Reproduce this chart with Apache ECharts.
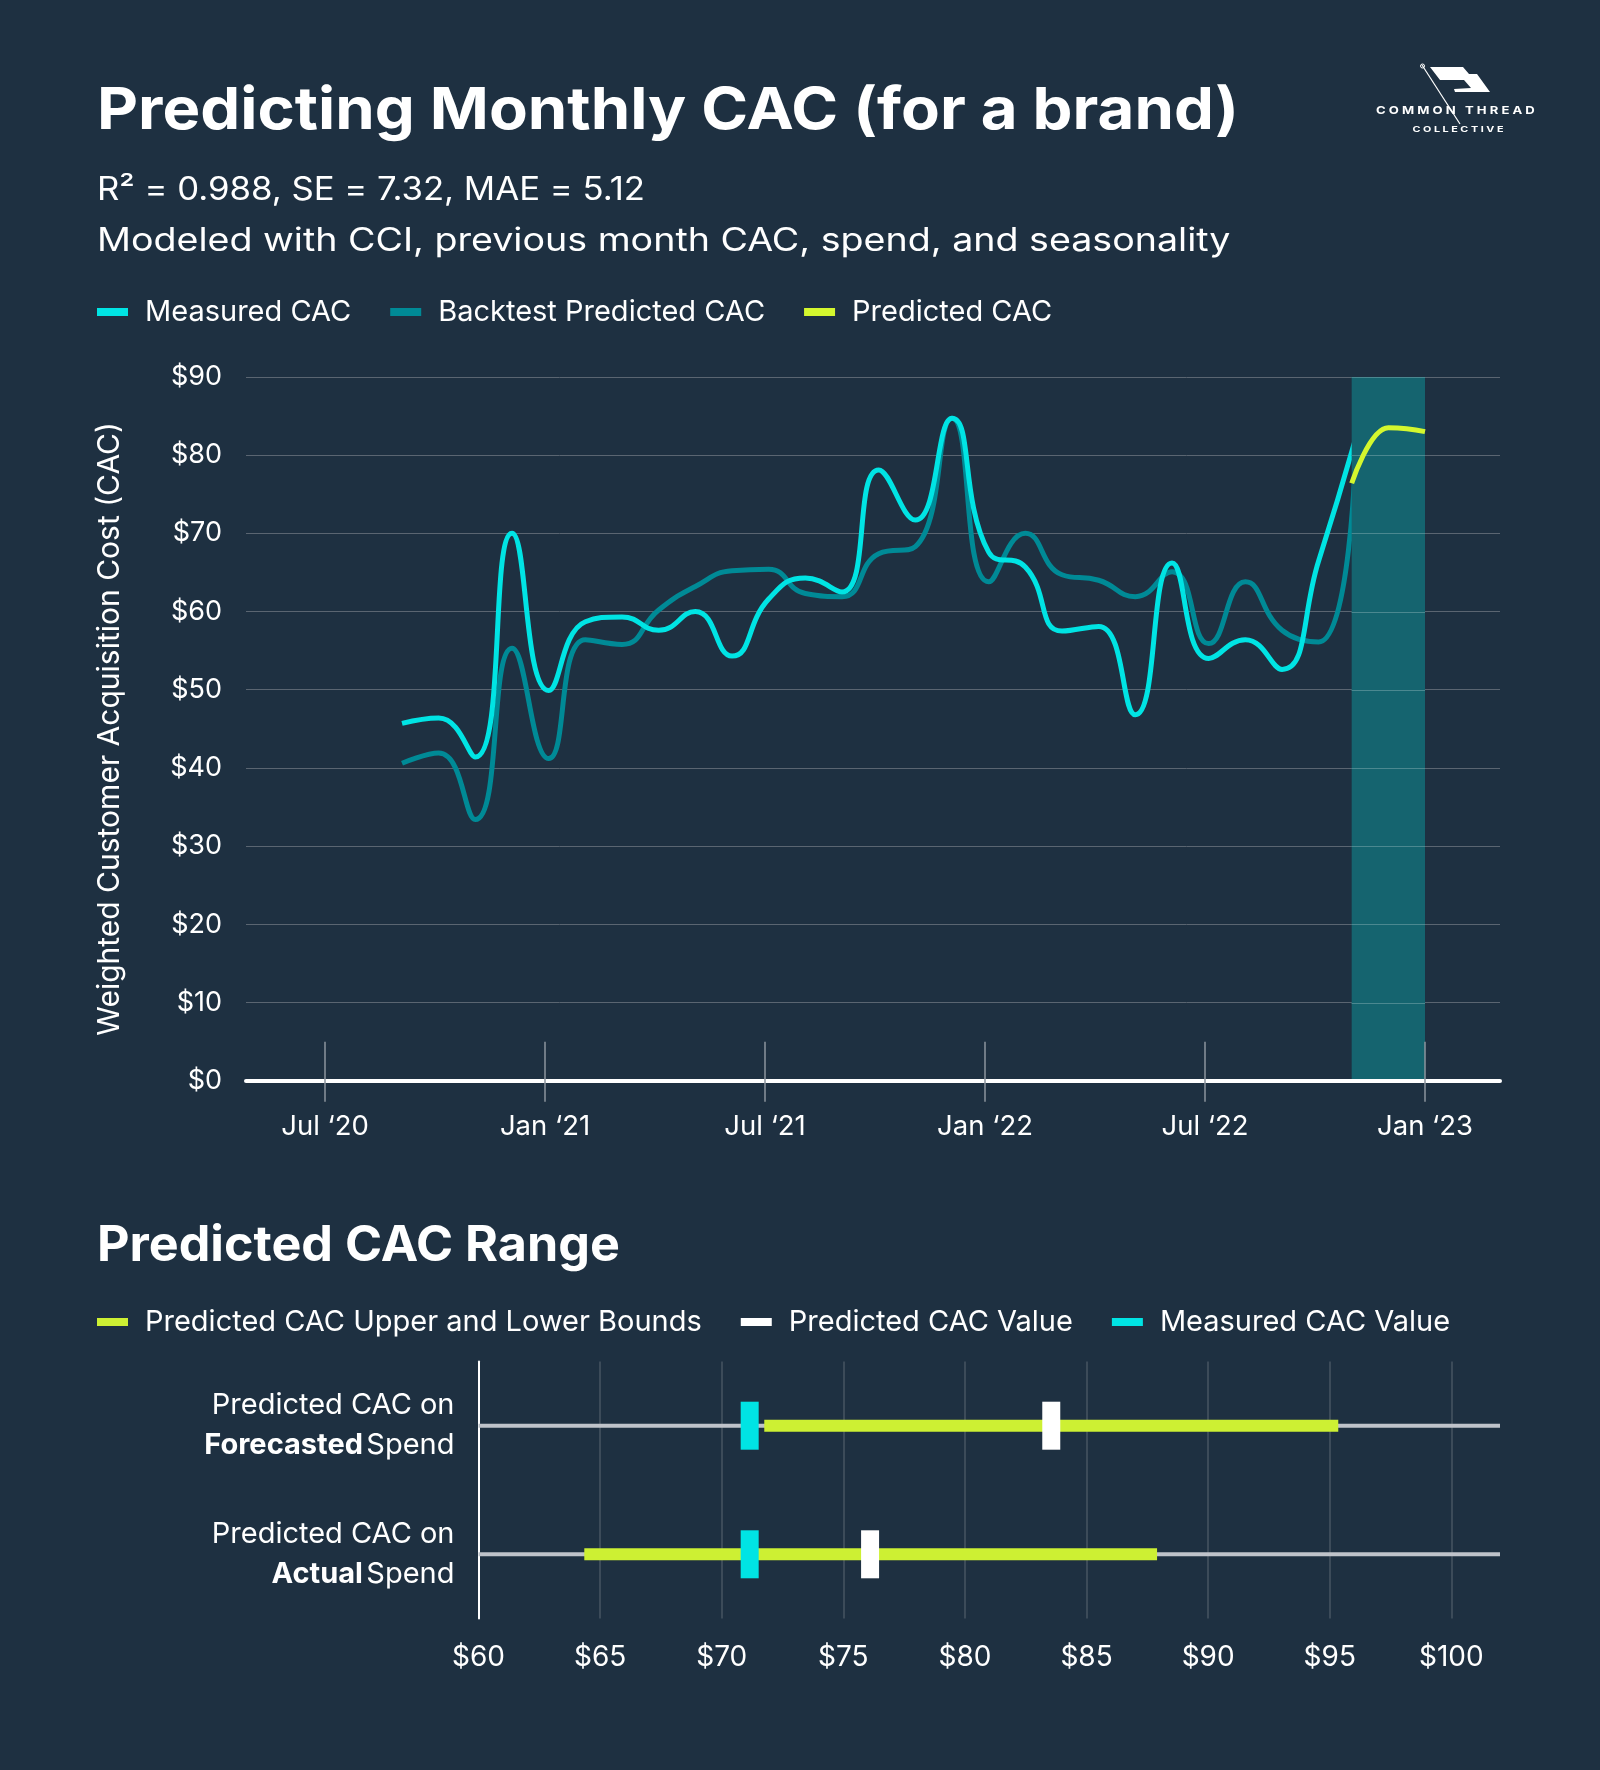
<!DOCTYPE html>
<html><head><meta charset="utf-8">
<script src="https://cdn.jsdelivr.net/npm/echarts@6/dist/echarts.min.js"></script>
<style>html,body{margin:0;padding:0;background:#1e3041;}#c{width:1600px;height:1770px;}</style>
</head><body><div id="c"></div>
<script>
// ---------- DATA ----------
const MONTHS = ['2020-09','2020-10','2020-11','2020-12','2021-01','2021-02','2021-03','2021-04','2021-05','2021-06','2021-07','2021-08','2021-09','2021-10','2021-11','2021-12','2022-01','2022-02','2022-03','2022-04','2022-05','2022-06','2022-07','2022-08','2022-09','2022-10','2022-11'];
const MEASURED = [45.7,46.4,41.4,70.0,49.9,58.7,59.3,57.6,60.0,54.3,61.6,64.3,62.5,78.1,71.7,84.7,67.6,65.7,57.5,58.1,46.8,66.2,54.0,56.4,52.6,66.5,82.0];
const BACKTEST = [40.6,41.9,33.4,55.3,41.2,56.4,55.8,60.2,63.2,65.2,65.4,62.3,61.9,67.4,68.3,84.7,63.8,70.0,64.7,64.0,61.9,65.1,55.9,63.8,57.6,56.1,79.5];
const PRED_MONTHS = ['2022-11','2022-12','2023-01'];
const PREDICTED = [76.4,83.5,83.0];
const FORECAST_WINDOW = ['2022-11','2023-01'];
const TICK_MONTHS = ['2020-07','2021-01','2021-07','2022-01','2022-07','2023-01'];
const TICK_LABELS = ['Jul \u201820','Jan \u201821','Jul \u201821','Jan \u201822','Jul \u201822','Jan \u201823'];
const Y_MIN = 0, Y_MAX = 90, Y_STEP = 10;

const RANGE_ROWS = ['Forecasted','Actual'];
const RANGE_LOW = [71.75,64.35];
const RANGE_HIGH = [95.35,87.9];
const PRED_VALUE = [83.55,76.1];
const MEAS_VALUE = [71.15,71.15];

// ---------- STYLE ----------
const BG = '#1e3041', CYAN = '#00e4e4', TEAL = '#008a96', YELLOW = '#d4f72e', YELLOW2 = '#cdf033';
const FONT = 'Inter, "Noto Sans", sans-serif';
const monthIdx = s => { const [y,m] = s.split('-').map(Number); return (y-2020)*12 + (m-7); };
const X_MIN = -2.155, X_MAX = 32.045, SHIFT = 0.1;

const chart = echarts.init(document.getElementById('c'), null, {renderer:'canvas'});

const tickVals = TICK_MONTHS.map(monthIdx);
const labelFor = v => TICK_LABELS[tickVals.indexOf(Math.round(v))] || '';
const yTicks = [];
for (let v = Y_MIN + Y_STEP; v <= Y_MAX; v += Y_STEP) yTicks.push(v);

const legendText = {color:'#fff', fontSize:29, fontFamily:FONT, padding:[0,0,0,12], lineHeight:34};

const option = {
  backgroundColor: BG,
  animation: false,
  textStyle: {fontFamily: FONT},
  grid: [
    {left:246, right:100, top:376.9, bottom:689.2, outerBoundsMode:'none'},
    {left:478.5, right:100, top:1361.4, bottom:151.4, outerBoundsMode:'none'}
  ],
  legend: [
    {left:97, top:295, padding:0, itemWidth:31, itemHeight:8, itemGap:39, icon:'rect',
     textStyle:legendText, data:['Measured CAC','Backtest Predicted CAC','Predicted CAC']},
    {left:97, top:1305, padding:0, itemWidth:31, itemHeight:8, itemGap:39, icon:'rect',
     textStyle:legendText, data:['Predicted CAC Upper and Lower Bounds','Predicted CAC Value','Measured CAC Value']}
  ],
  xAxis: [
    {type:'value', gridIndex:0, min:X_MIN, max:X_MAX, position:'bottom', z:10,
     axisLine:{show:true, onZero:false, lineStyle:{color:'#ffffff', width:4}},
     axisTick:{show:true, customValues:tickVals, length:21, lineStyle:{color:'#8c949d', width:1.5}},
     axisLabel:{show:true, customValues:tickVals, formatter:labelFor, color:'#fff', fontSize:27.5, margin:31.5, fontFamily:FONT},
     splitLine:{show:false}},
    {type:'value', gridIndex:0, min:X_MIN, max:X_MAX, position:'bottom', z:10,
     axisLine:{show:false}, axisTick:{show:true, inside:true, customValues:tickVals, length:39, lineStyle:{color:'#8c949d', width:1.5}},
     axisLabel:{show:false}, splitLine:{show:false}},
    {type:'value', gridIndex:0, min:X_MIN-SHIFT, max:X_MAX-SHIFT, show:false, splitLine:{show:false}},
    {type:'value', gridIndex:1, min:60, max:102, interval:5,
     axisLine:{show:false}, axisTick:{show:false},
     axisLabel:{formatter:v=>'$'+v, color:'#fff', fontSize:28, margin:24.5, fontFamily:FONT, showMaxLabel:false},
     splitLine:{show:true, showMaxLine:false, showMinLine:false, lineStyle:{color:'#475462', width:1.5}}}
  ],
  yAxis: [
    {type:'value', gridIndex:0, min:Y_MIN, max:Y_MAX, interval:Y_STEP,
     axisLine:{show:false}, axisTick:{show:false},
     axisLabel:{formatter:v=>'$'+v, color:'#fff', fontSize:27, margin:24, fontFamily:FONT},
     splitLine:{lineStyle:{color:'#5a6571', width:1}},
     name:'Weighted Customer Acquisition Cost (CAC)', nameLocation:'middle', nameRotate:90, nameGap:121.5,
     nameTextStyle:{color:'#fff', fontSize:30, fontFamily:FONT}},
    {type:'category', gridIndex:1, data:RANGE_ROWS, inverse:true,
     axisLine:{show:true, lineStyle:{color:'#ffffff', width:2}}, axisTick:{show:false},
     axisLabel:{margin:24, align:'right', fontFamily:FONT,
       formatter: v => '{n|Predicted CAC on}\n{b|' + v + '} {n|Spend}',
       rich:{n:{color:'#fff', fontSize:29, lineHeight:40, fontFamily:FONT},
             b:{color:'#fff', fontSize:29, lineHeight:40, fontWeight:'bold', fontFamily:FONT}}},
     splitLine:{show:false}}
  ],
  series: [
    {name:'Backtest Predicted CAC', type:'line', xAxisIndex:2, yAxisIndex:0, z:2,
     data: MONTHS.map((m,i)=>[monthIdx(m), BACKTEST[i]]),
     smooth:0.5, showSymbol:false, symbol:'none',
     lineStyle:{color:TEAL, width:5}, itemStyle:{color:TEAL}},
    {name:'Measured CAC', type:'line', xAxisIndex:2, yAxisIndex:0, z:2,
     data: MONTHS.map((m,i)=>[monthIdx(m), MEASURED[i]]),
     smooth:0.5, showSymbol:false, symbol:'none',
     lineStyle:{color:CYAN, width:5}, itemStyle:{color:CYAN}},
    {name:'Forecast window', type:'custom', xAxisIndex:0, yAxisIndex:0, z:3, silent:true,
     data:[[monthIdx(FORECAST_WINDOW[0]), monthIdx(FORECAST_WINDOW[1])]],
     renderItem:(params, api) => {
       const cs = params.coordSys;
       const x0 = api.coord([api.value(0), 0])[0], x1 = api.coord([api.value(1), 0])[0];
       const children = [{type:'rect', shape:{x:x0, y:cs.y, width:x1-x0, height:cs.height}, style:{fill:'#15646f'}}];
       yTicks.forEach(v => {
         const y = Math.round(api.coord([api.value(0), v])[1]) + 0.5;
         children.push({type:'line', shape:{x1:x0, y1:y, x2:x1, y2:y}, style:{stroke:'#4b8890', lineWidth:1}});
       });
       return {type:'group', children};
     }},
    {name:'Predicted CAC', type:'line', xAxisIndex:0, yAxisIndex:0, z:4,
     data: PRED_MONTHS.map((m,i)=>[monthIdx(m), PREDICTED[i]]),
     smooth:0.5, smoothMonotone:'x', showSymbol:false, symbol:'none',
     lineStyle:{color:YELLOW, width:5}, itemStyle:{color:YELLOW}},

    // lower chart
    {name:'row line', type:'custom', xAxisIndex:3, yAxisIndex:1, z:1, silent:true,
     data: RANGE_ROWS.map((r,i)=>[i]),
     renderItem:(params, api) => {
       const cs = params.coordSys;
       const y = api.coord([60, api.value(0)])[1];
       return {type:'line', shape:{x1:cs.x, y1:y, x2:cs.x+cs.width, y2:y}, style:{stroke:'#bfc3ca', lineWidth:4}};
     }},
    {name:'Predicted CAC Upper and Lower Bounds', type:'custom', xAxisIndex:3, yAxisIndex:1, z:2,
     itemStyle:{color:YELLOW2},
     data: RANGE_ROWS.map((r,i)=>[RANGE_LOW[i], RANGE_HIGH[i], i]),
     renderItem:(params, api) => {
       const p0 = api.coord([api.value(0), api.value(2)]);
       const p1 = api.coord([api.value(1), api.value(2)]);
       return {type:'rect', shape:{x:p0[0], y:p0[1]-6, width:p1[0]-p0[0], height:12}, style:{fill:YELLOW2}};
     }},
    {name:'Predicted CAC Value', type:'scatter', xAxisIndex:3, yAxisIndex:1, z:3,
     symbol:'rect', symbolSize:[18,48], itemStyle:{color:'#ffffff', opacity:1},
     data: RANGE_ROWS.map((r,i)=>[PRED_VALUE[i], i])},
    {name:'Measured CAC Value', type:'scatter', xAxisIndex:3, yAxisIndex:1, z:3,
     symbol:'rect', symbolSize:[18,48], itemStyle:{color:CYAN, opacity:1},
     data: RANGE_ROWS.map((r,i)=>[MEAS_VALUE[i], i])}
  ],
  graphic: [
    {type:'text', x:97, y:82.5, scaleX:1.094, style:{text:'Predicting Monthly CAC (for a brand)', fill:'#fff', font:'bold 58px ' + FONT, verticalAlign:'top'}},
    {type:'text', x:97, y:174, scaleX:1.085, style:{text:'R\u00b2 = 0.988, SE = 7.32, MAE = 5.12', fill:'#fff', font:'32px ' + FONT, verticalAlign:'top'}},
    {type:'text', x:97, y:225.5, scaleX:1.175, style:{text:'Modeled with CCI, previous month CAC, spend, and seasonality', fill:'#fff', font:'32px ' + FONT, verticalAlign:'top'}},
    {type:'text', x:97, y:1222, scaleX:1.025, style:{text:'Predicted CAC Range', fill:'#fff', font:'bold 49px ' + FONT, verticalAlign:'top'}},
    // logo
    {type:'group', x:1376, y:62, children:[
      {type:'polygon', shape:{points:[[54,5],[87,5],[93,12],[101,12],[114,30],[79,30],[78,27],[95,26],[88,18],[64,18]]}, style:{fill:'#fff'}},
      {type:'line', shape:{x1:46,y1:3,x2:84,y2:62}, style:{stroke:'#fff', lineWidth:1.2}},
      {type:'circle', shape:{cx:46.5,cy:4,r:2}, style:{fill:'none', stroke:'#fff', lineWidth:1}},
      {type:'text', x:0, y:43, scaleX:1.19, style:{text:'C O M M O N   T H R E A D', fill:'#fff', font:'bold 11px ' + FONT, verticalAlign:'top'}},
      {type:'text', x:36.5, y:64, scaleX:1.35, style:{text:'C O L L E C T I V E', fill:'#fff', font:'bold 8px ' + FONT, verticalAlign:'top'}}
    ]}
  ]
};
chart.setOption(option);
</script></body></html>
